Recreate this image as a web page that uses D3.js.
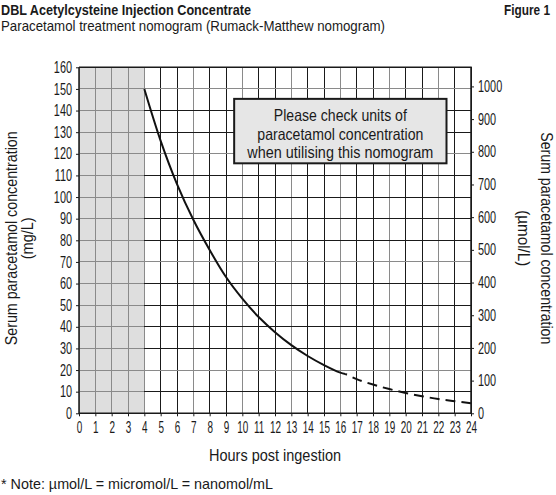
<!DOCTYPE html>
<meta charset="utf-8">
<script src="https://d3js.org/d3.v7.min.js"></script>
<style>
    body {
        margin: 0;
        background: #fff;
    }
    text {
        fill: #1a1a1a;
        font-family: "Liberation Sans", Arial, sans-serif;
    }
</style>
<div id="viz_area"></div>
<script>
    // ticks
    var hourTicks = d3.range(0, 25)
    var mgTicks = d3.range(0, 161, 10)
    var umolTicks = d3.range(0, 1001, 100)
    var molarMass = 151.16 // paracetamol, mg per mmol

    // nomogram line (mg/L)
    var solidHours = [4, 5, 6, 7, 8, 9, 10, 11, 12, 13, 14, 15, 16, 16.3]
    var solidConc = [150, 126, 106, 89.5, 75.5, 63, 53, 44.5, 37.5, 31.5, 26.5, 22.3, 18.8, 18.2]
    var dashHours = [16.3, 17, 18, 19, 20, 21, 22, 23, 24]
    var dashConc = [18.2, 15.8, 13.3, 11.2, 9.4, 7.9, 6.6, 5.6, 4.7]

    // first hours shaded
    var shadeHours = [0, 4]

    var boxLines = ["Please check units of", "paracetamol concentration", "when utilising this nomogram"]
    var boxWidths = [133, 166, 186]

    var W = 556, H = 495
    var margin = { left: 79, top: 67.3, right: 85, bottom: 81.7 }
    var w = W - margin.left - margin.right
    var h = H - margin.top - margin.bottom

    var svg = d3.select("#viz_area").append("svg")
        .attr("width", W)
        .attr("height", H)

    // condensed look: squeeze by factor, or fit to a width
    function squeeze(sel, k) {
        sel.each(function() {
            var len = this.getComputedTextLength()
            d3.select(this).attr("textLength", len * k).attr("lengthAdjust", "spacingAndGlyphs")
        })
    }
    function fit(sel, width) {
        sel.attr("textLength", width).attr("lengthAdjust", "spacingAndGlyphs")
    }

    // titles
    svg.append("text").attr("x", 1).attr("y", 15)
        .attr("font-size", 14.5).attr("font-weight", "bold")
        .text("DBL Acetylcysteine Injection Concentrate")
        .call(fit, 250)
    svg.append("text").attr("x", 504).attr("y", 15)
        .attr("font-size", 14.5).attr("font-weight", "bold")
        .text("Figure 1")
        .call(fit, 46)
    svg.append("text").attr("x", 1).attr("y", 31)
        .attr("font-size", 14.5)
        .text("Paracetamol treatment nomogram (Rumack-Matthew nomogram)")
        .call(fit, 384)

    var g = svg.append("g")
        .attr("transform", "translate(" + margin.left + "," + margin.top + ")")

    var x = d3.scaleLinear().domain([0, 24]).range([0, w])
    var y = d3.scaleLinear().domain([0, 160]).range([h, 0])
    var y2 = d3.scaleLinear().domain([0, 160 * 1000 / molarMass]).range([h, 0])

    // shaded early hours
    g.append("rect")
        .attr("x", x(shadeHours[0]))
        .attr("y", 0)
        .attr("width", x(shadeHours[1]) - x(shadeHours[0]))
        .attr("height", h)
        .attr("fill", "#dedede")

    // grid
    var grid = g.append("g").attr("shape-rendering", "crispEdges")
    grid.selectAll(".vline")
        .data(hourTicks)
        .enter().append("line")
        .attr("class", "vline")
        .attr("x1", function(d) { return x(d) })
        .attr("x2", function(d) { return x(d) })
        .attr("y1", 0)
        .attr("y2", h)
        .attr("stroke", function(d) {
            if (d <= shadeHours[1]) return "#8a8a8a"
            return d % 3 == 1 ? "#8a8a8a" : "#1a1a1a"
        })
    grid.selectAll(".hline-shade")
        .data(mgTicks)
        .enter().append("line")
        .attr("class", "hline-shade")
        .attr("x1", x(shadeHours[0]))
        .attr("x2", x(shadeHours[1]))
        .attr("y1", function(d) { return y(d) })
        .attr("y2", function(d) { return y(d) })
        .attr("stroke", "#8a8a8a")
    grid.selectAll(".hline")
        .data(mgTicks)
        .enter().append("line")
        .attr("class", "hline")
        .attr("x1", x(shadeHours[1]))
        .attr("x2", w)
        .attr("y1", function(d) { return y(d) })
        .attr("y2", function(d) { return y(d) })
        .attr("stroke", function(d) {
            return (d / 10) % 5 == 2 || d == 150 ? "#8a8a8a" : "#1a1a1a"
        })

    // nomogram line
    var line = d3.line()
        .x(function(d) { return x(d[0]) })
        .y(function(d) { return y(d[1]) })
        .curve(d3.curveCatmullRom)

    g.append("path")
        .datum(d3.zip(solidHours, solidConc))
        .attr("d", line)
        .attr("fill", "none")
        .attr("stroke", "#111")
        .attr("stroke-width", 2)

    g.append("path")
        .datum(d3.zip(dashHours, dashConc))
        .attr("d", line)
        .attr("fill", "none")
        .attr("stroke", "#111")
        .attr("stroke-width", 2)
        .attr("stroke-dasharray", "10,6")
        .attr("stroke-dashoffset", -8)

    // warning box
    var bx = x(9.5), bw = x(22.5) - x(9.5)
    g.append("rect")
        .attr("x", bx)
        .attr("y", y(145.4))
        .attr("width", bw)
        .attr("height", y(115.6) - y(145.4))
        .attr("fill", "#e6e6e6")
        .attr("stroke", "#1a1a1a")
        .attr("stroke-width", 2)
    g.selectAll(".boxtext")
        .data(boxLines)
        .enter().append("text")
        .attr("class", "boxtext")
        .attr("x", bx + bw / 2)
        .attr("y", function(d, i) { return y(135) + i * 18.5 })
        .attr("text-anchor", "middle")
        .attr("font-size", 16.5)
        .attr("textLength", function(d, i) { return boxWidths[i] })
        .attr("lengthAdjust", "spacingAndGlyphs")
        .text(function(d) { return d })

    // axes
    var axisStyle = function(a) {
        a.select(".domain").remove()
        a.selectAll("text").attr("font-size", 16).attr("font-family", null)
        a.selectAll("line").attr("stroke", "#1a1a1a")
        a.attr("font-family", null)
    }
    var xAxis = g.append("g")
        .attr("transform", "translate(0," + h + ")")
        .call(d3.axisBottom(x).tickValues(hourTicks).tickSize(3).tickPadding(5))
        .call(axisStyle)
    var yAxis = g.append("g")
        .call(d3.axisLeft(y).tickValues(mgTicks).tickSize(3).tickPadding(4))
        .call(axisStyle)
    var y2Axis = g.append("g")
        .attr("transform", "translate(" + w + ",0)")
        .call(d3.axisRight(y2).tickValues(umolTicks).tickFormat(d3.format("d")).tickSize(3).tickPadding(4))
        .call(axisStyle)
    squeeze(xAxis.selectAll("text"), 0.62)
    squeeze(yAxis.selectAll("text"), 0.68)
    squeeze(y2Axis.selectAll("text"), 0.68)

    // frame lines
    g.append("path")
        .attr("d", "M0,0V" + h + "H" + w + "V0H0")
        .attr("fill", "none")
        .attr("stroke", "#1a1a1a")
        .attr("stroke-width", 1.5)

    // axis titles
    g.append("text")
        .attr("transform", "translate(" + (17 - margin.left) + "," + (h / 2 - 2) + ") rotate(-90)")
        .attr("text-anchor", "middle")
        .attr("font-size", 16)
        .text("Serum paracetamol concentration")
        .call(fit, 214)
    g.append("text")
        .attr("transform", "translate(" + (33 - margin.left) + "," + (h / 2 - 2) + ") rotate(-90)")
        .attr("text-anchor", "middle")
        .attr("font-size", 16)
        .text("(mg/L)")
        .call(fit, 42)
    g.append("text")
        .attr("transform", "translate(" + (541 - margin.left) + "," + (h / 2 - 2) + ") rotate(90)")
        .attr("text-anchor", "middle")
        .attr("font-size", 16)
        .text("Serum paracetamol concentration")
        .call(fit, 212)
    g.append("text")
        .attr("transform", "translate(" + (518 - margin.left) + "," + (h / 2 - 2) + ") rotate(90)")
        .attr("text-anchor", "middle")
        .attr("font-size", 16)
        .text("(\u00b5mol/L)")
        .call(fit, 56)
    g.append("text")
        .attr("x", w / 2)
        .attr("y", h + 48)
        .attr("text-anchor", "middle")
        .attr("font-size", 16)
        .text("Hours post ingestion")
        .call(fit, 132)

    svg.append("text")
        .attr("x", 1)
        .attr("y", 489)
        .attr("font-size", 15)
        .text("* Note: \u00b5mol/L = micromol/L = nanomol/mL")
        .call(fit, 272)
</script>
